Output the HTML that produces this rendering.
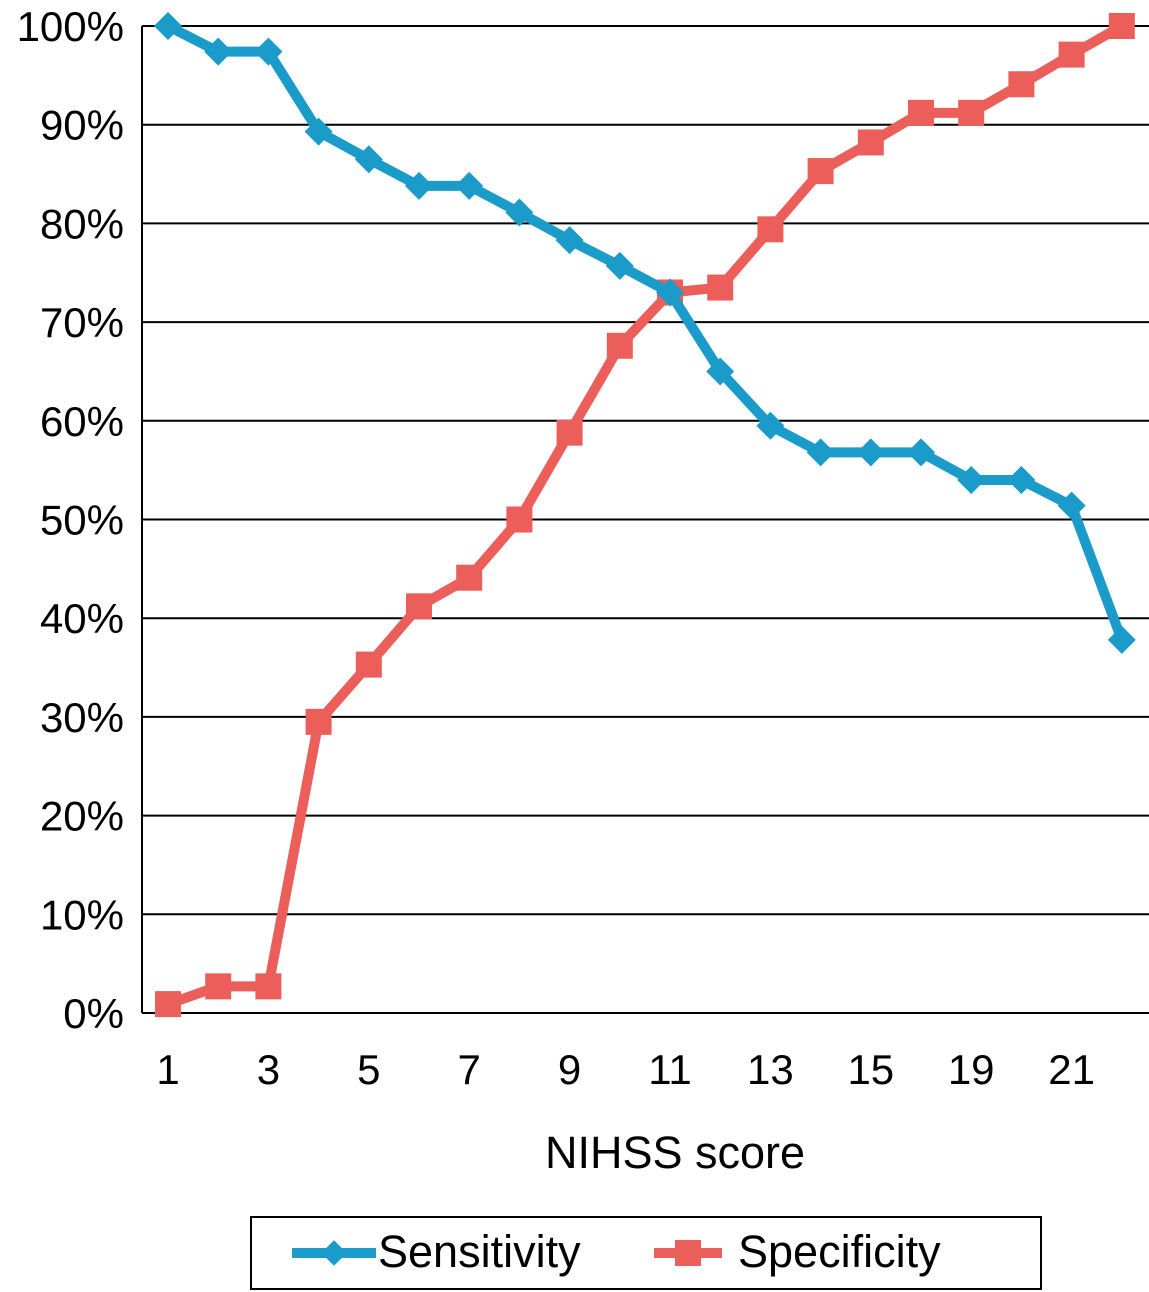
<!DOCTYPE html>
<html><head><meta charset="utf-8"><style>
body{margin:0;background:#fff;}
svg{display:block;font-family:"Liberation Sans",Arial,sans-serif;}
</style></head><body>
<svg id="chart" width="1149" height="1292"></svg>
<script>
const categories=[1,2,3,4,5,6,7,8,9,10,11,12,13,14,15,17,19,20,21,22];
const sensitivity=[100,97.4,97.4,89.3,86.5,83.8,83.8,81.1,78.3,75.7,73,65,59.5,56.8,56.8,56.8,54,54,51.4,37.8];
const specificity=[0.9,2.7,2.7,29.5,35.3,41.2,44.1,50,58.8,67.6,73,73.5,79.4,85.3,88.2,91.2,91.2,94.1,97.1,100];
const yTicks=[0,10,20,30,40,50,60,70,80,90,100];
const NS='http://www.w3.org/2000/svg';
const svg=document.getElementById('chart');
const L=142,R=1149,T=26,B=1013;
const x=i=>168+i*50.2;
const y=v=>B-(v/100)*(B-T);
function mk(t,a,p){const e=document.createElementNS(NS,t);for(const k in a)e.setAttribute(k,a[k]);(p||svg).appendChild(e);return e;}
yTicks.forEach(v=>{
  const g=mk('line',{x1:L,x2:R,y1:y(v),y2:y(v),stroke:'#000','stroke-width':2});
  
  
  const t=mk('text',{x:124,y:y(v)+15,'text-anchor':'end','font-size':42});
  t.textContent=v+'%';
  
  
});
const ax=mk('line',{x1:L,x2:L,y1:T,y2:B,stroke:'#000','stroke-width':2});


categories.forEach((c,i)=>{
  if(i%2)return;
  const t=mk('text',{x:x(i),y:1084,'text-anchor':'middle','font-size':42});
  t.textContent=c;
  
  
});
function series(vals,color,shape,name){
  const pl=mk('polyline',{points:vals.map((v,i)=>x(i)+','+y(v)).join(' '),fill:'none',stroke:color,'stroke-width':10,'stroke-linejoin':'round'});
  
  
  vals.forEach((v,i)=>{
    let m;
    if(shape==='sq')m=mk('rect',{x:x(i)-13,y:y(v)-13,width:26,height:26,fill:color});
    else m=mk('polygon',{points:`${x(i)},${y(v)-14} ${x(i)+14},${y(v)} ${x(i)},${y(v)+14} ${x(i)-14},${y(v)}`,fill:color});
    
    
  });
}
series(specificity,'#eb5e5a','sq','specificity');
series(sensitivity,'#1a9bc9','dia','sensitivity');
</script>
<div style="position:absolute;left:0;top:0;width:1149px;height:1292px;font-family:'Liberation Sans',Arial,sans-serif;pointer-events:none">
  <div style="position:absolute;left:0;width:1350px;top:1127px;text-align:center;font-size:45px">NIHSS score</div>
  <div style="position:absolute;left:250px;top:1216px;width:788px;height:70px;border:2px solid #000;">
    <div style="position:absolute;left:40px;top:0;height:70px;">
      <div style="position:absolute;left:0;top:30px;width:84px;height:10px;background:#1a9bc9"></div>
      <div style="position:absolute;left:33px;top:26px;width:18px;height:18px;background:#1a9bc9;transform:rotate(45deg)"></div>
      <div style="position:absolute;left:86px;top:8px;font-size:45px;white-space:nowrap">Sensitivity</div>
    </div>
    <div style="position:absolute;left:402px;top:0;height:70px;">
      <div style="position:absolute;left:0;top:30px;width:68px;height:10px;background:#eb5e5a"></div>
      <div style="position:absolute;left:21px;top:22px;width:26px;height:26px;background:#eb5e5a"></div>
      <div style="position:absolute;left:84px;top:8px;font-size:45px;white-space:nowrap">Specificity</div>
    </div>
  </div>
</div>
</body></html>
